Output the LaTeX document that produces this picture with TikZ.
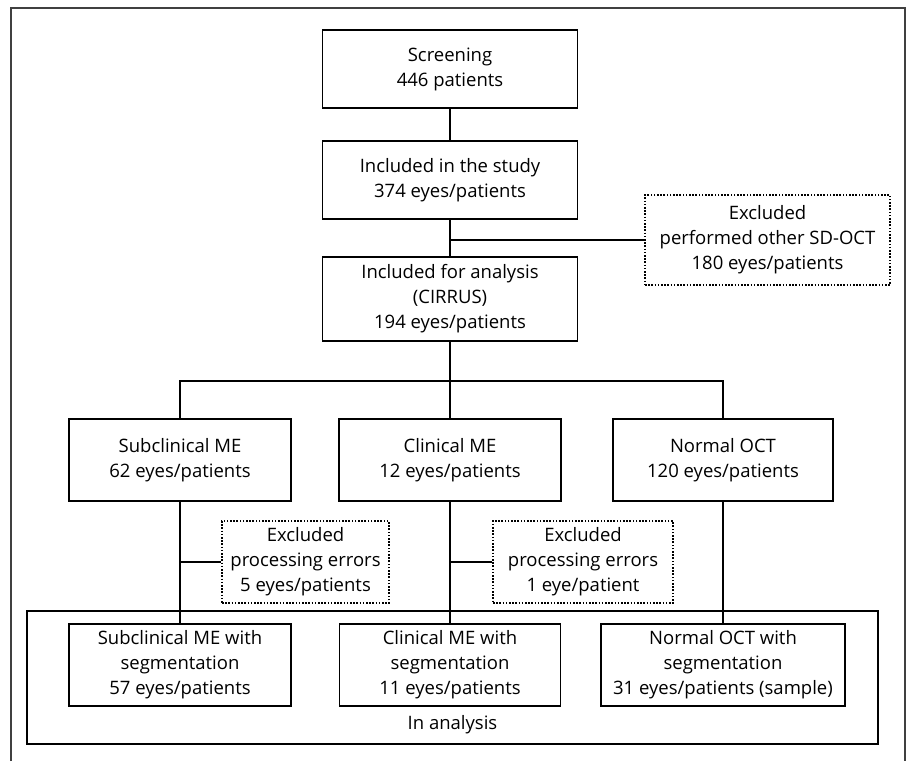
\documentclass[tikz,border=0pt]{standalone}
\usepackage{fontspec}
\setmainfont{Open Sans}
\usetikzlibrary{positioning}
\tikzset{
	flowbox/.style={draw, line width=1.3pt, align=center, inner sep=2pt, minimum height=80pt},
	exclbox/.style={flowbox, dash pattern=on 1.6pt off 1.6pt},
	wire/.style={line width=1.3pt}
}
\begin{document}
\begin{tikzpicture}[x=1pt, y=-1pt, font=\fontsize{18.5}{25}\selectfont, text=black]
	\useasboundingbox (0,0) rectangle (912,761);
	% Outer frame (open at the bottom):
	\draw[line width=1.6pt, black!75] (11,761) |- (905,8) -- (905,761);
	% Top column:
	\node[flowbox, minimum width=255pt, minimum height=78pt] (screen) at (450,69) {Screening\\446 patients};
	\node[flowbox, minimum width=255pt, minimum height=78pt] (study) at (450,180) {Included in the study\\374 eyes/patients};
	\node[flowbox, minimum width=255pt, minimum height=84pt] (cirrus) at (450,299) {Included for analysis\\(CIRRUS)\\194 eyes/patients};
	\node[exclbox, minimum width=245pt, minimum height=90pt] (othoct) at (767.5,240) {Excluded\\performed other SD-OCT\\180 eyes/patients};
	% Groups:
	\node[flowbox, minimum width=222pt, minimum height=82pt] (subme) at (180,460) {Subclinical ME\\62 eyes/patients};
	\node[flowbox, minimum width=222pt, minimum height=82pt] (clinme) at (450,460) {Clinical ME\\12 eyes/patients};
	\node[flowbox, minimum width=220pt, minimum height=82pt] (normoct) at (723,460) {Normal OCT\\120 eyes/patients};
	% Exclusions by processing errors:
	\node[exclbox, minimum width=167pt, minimum height=82pt] (errsub) at (305.5,562) {Excluded\\processing errors\\5 eyes/patients};
	\node[exclbox, minimum width=180pt, minimum height=82pt] (errclin) at (583,562) {Excluded\\processing errors\\1 eye/patient};
	% In analysis:
	\node[draw, line width=1.3pt, minimum width=851pt, minimum height=133pt] (inanal) at (452.5,677.5) {};
	\node[anchor=center] (inanaltxt) at (452.5,725) {In analysis};
	\node[flowbox, minimum width=222pt, minimum height=82pt] (subseg) at (180,665) {Subclinical ME with\\segmentation\\57 eyes/patients};
	\node[flowbox, minimum width=221pt, minimum height=82pt] (clinseg) at (450,665) {Clinical ME with\\segmentation\\11 eyes/patients};
	\node[flowbox, minimum width=244pt, minimum height=82pt] (normseg) at (723,665) {Normal OCT with\\segmentation\\31 eyes/patients (sample)};
	% Wires:
	\draw[wire] (screen) -- (study);
	\draw[wire] (study) -- (cirrus);
	\draw[wire] (study.south |- othoct.west) -- (othoct.west);
	\coordinate (split) at (450,381);
	\draw[wire] (cirrus.south) -- (split);
	\draw[wire] (subme.north) |- (split) -| (normoct.north);
	\draw[wire] (split) -- (clinme.north);
	\draw[wire] (subme) -- (subseg);
	\draw[wire] (clinme) -- (clinseg);
	\draw[wire] (normoct) -- (normseg);
	\draw[wire] (subme.south |- errsub.west) -- (errsub.west);
	\draw[wire] (clinme.south |- errclin.west) -- (errclin.west);
\end{tikzpicture}
\end{document}
